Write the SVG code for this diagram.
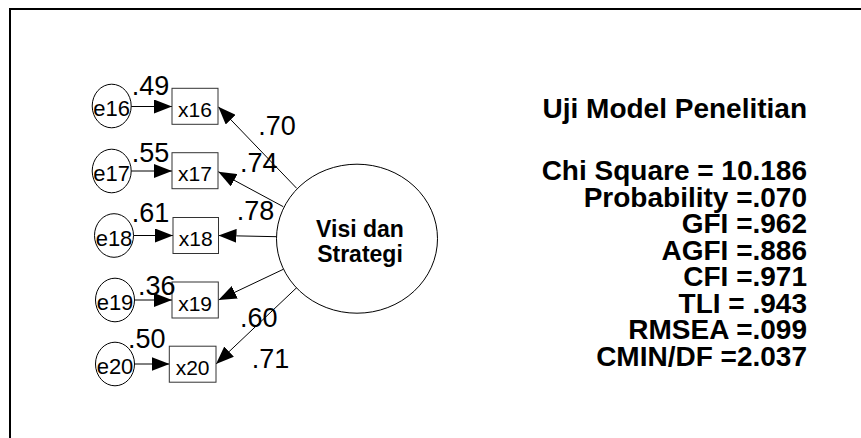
<svg xmlns="http://www.w3.org/2000/svg" width="861" height="438" viewBox="0 0 861 438">
  <style>
    text { font-family: "Liberation Sans", Arial, sans-serif; fill: #000; }
    .coef { font-size: 27px; }
    .err { font-size: 22px; text-anchor: middle; }
    .obs { font-size: 21px; text-anchor: middle; }
    .lat { font-size: 23px; font-weight: bold; text-anchor: middle; }
    .fit { font-size: 28px; font-weight: bold; text-anchor: end; }
    .shape { fill: #fff; stroke: #000; stroke-width: 1; }
    .box { fill: #fff; stroke: #333; stroke-width: 1; }
    .conn line { stroke: #000; stroke-width: 1; marker-end: url(#head); }
  </style>
  <defs>
    <marker id="head" markerUnits="userSpaceOnUse" markerWidth="18" markerHeight="14" refX="18" refY="7" orient="auto">
      <path d="M0,0 L18,7 L0,14 Z" fill="#000"/>
    </marker>
  </defs>

  <rect width="861" height="438" fill="#fff"/>
  <!-- frame: top and left edges only -->
  <path d="M10,438 V9 H861" fill="none" stroke="#000" stroke-width="2"/>

  <!-- connectors -->
  <g id="connectors" class="conn">
    <line x1="131.2" y1="106.5" x2="172" y2="106.5"/>
    <line x1="131.2" y1="171" x2="172" y2="171"/>
    <line x1="133.5" y1="235.5" x2="173" y2="235.5"/>
    <line x1="134.5" y1="300" x2="172" y2="300"/>
    <line x1="134.5" y1="364" x2="169.5" y2="364"/>
    <line x1="296.7" y1="188.3" x2="218.3" y2="106.7"/>
    <line x1="283.3" y1="206.7" x2="218.3" y2="171.7"/>
    <line x1="276.5" y1="236.7" x2="218.5" y2="235.5"/>
    <line x1="283.3" y1="269.3" x2="218.5" y2="300"/>
    <line x1="297.7" y1="286.7" x2="216" y2="364"/>
  </g>

  <!-- error terms -->
  <g id="e16"><ellipse class="shape" cx="111.7" cy="106" rx="19.5" ry="21.8"/><text class="err" x="111.7" y="116">e16</text></g>
  <g id="e17"><ellipse class="shape" cx="111.7" cy="171" rx="19.5" ry="21.8"/><text class="err" x="111.7" y="181">e17</text></g>
  <g id="e18"><ellipse class="shape" cx="114" cy="235.5" rx="19.5" ry="21.8"/><text class="err" x="114" y="245.5">e18</text></g>
  <g id="e19"><ellipse class="shape" cx="115" cy="300" rx="19.5" ry="21.8"/><text class="err" x="115" y="310">e19</text></g>
  <g id="e20"><ellipse class="shape" cx="115" cy="364" rx="19.5" ry="21.8"/><text class="err" x="115" y="374">e20</text></g>

  <!-- observed indicators -->
  <g id="x16"><rect class="box" x="172" y="88.3" width="46" height="36"/><text class="obs" x="195" y="116.8">x16</text></g>
  <g id="x17"><rect class="box" x="172" y="152.7" width="46" height="36"/><text class="obs" x="195" y="181.2">x17</text></g>
  <g id="x18"><rect class="box" x="173" y="217.5" width="45.5" height="36"/><text class="obs" x="195.7" y="246">x18</text></g>
  <g id="x19"><rect class="box" x="172" y="282" width="46.3" height="36"/><text class="obs" x="195.1" y="310.5">x19</text></g>
  <g id="x20"><rect class="box" x="169.3" y="346.2" width="46.7" height="36"/><text class="obs" x="192.6" y="374.6">x20</text></g>

  <!-- latent construct -->
  <g id="visi">
    <ellipse class="shape" cx="357" cy="238.7" rx="80.5" ry="74.5"/>
    <text class="lat" x="360" y="236.5">Visi dan</text>
    <text class="lat" x="360" y="262">Strategi</text>
  </g>

  <!-- estimates -->
  <g id="estimates">
    <text class="coef" x="131.7" y="95">.49</text>
    <text class="coef" x="131.7" y="161.7">.55</text>
    <text class="coef" x="131.7" y="221.7">.61</text>
    <text class="coef" x="138" y="295">.36</text>
    <text class="coef" x="128" y="348">.50</text>
    <text class="coef" x="258.3" y="135">.70</text>
    <text class="coef" x="240" y="171.7">.74</text>
    <text class="coef" x="236.7" y="220">.78</text>
    <text class="coef" x="240" y="326.7">.60</text>
    <text class="coef" x="251.7" y="368">.71</text>
  </g>

  <!-- fit summary -->
  <g id="fit">
    <text class="fit" x="807" y="118">Uji Model Penelitian</text>
    <text class="fit" x="807" y="180">Chi Square = 10.186</text>
    <text class="fit" x="807" y="206.5">Probability =.070</text>
    <text class="fit" x="807" y="233">GFI =.962</text>
    <text class="fit" x="807" y="259.5">AGFI =.886</text>
    <text class="fit" x="807" y="286">CFI =.971</text>
    <text class="fit" x="807" y="312.5">TLI = .943</text>
    <text class="fit" x="807" y="339">RMSEA =.099</text>
    <text class="fit" x="807" y="365.5">CMIN/DF =2.037</text>
  </g>
</svg>
